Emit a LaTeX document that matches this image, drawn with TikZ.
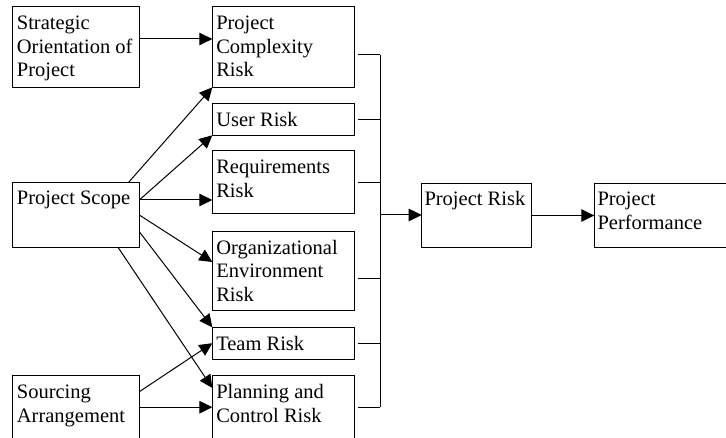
\documentclass[tikz,border=0pt]{standalone}
\usepackage{fontspec}
\setmainfont{Liberation Serif}
\usetikzlibrary{arrows.meta,calc}
\tikzset{
  box/.style={draw, line width=1pt, inner sep=0pt, outer sep=0pt},
  txt/.style={anchor=north west, inner sep=0pt, align=left, font=\fontsize{20.5}{23.6}\selectfont},
  arr/.style={line width=1pt, -{Triangle[length=13pt,width=12.5pt]}},
  ln/.style={line width=1pt}
}
\begin{document}
\begin{tikzpicture}[x=1pt,y=-1pt]
\clip (0,0) rectangle (726,438);
% left column
\node[box, minimum width=127pt, minimum height=80.6pt] (strat) at (75.8,47) {};
\node[box, minimum width=127pt, minimum height=64.6pt] (scope) at (75.8,215) {};
\node[box, minimum width=127pt, minimum height=63pt] (src) at (75.8,407.2) {};
% middle column
\node[box, minimum width=141.7pt, minimum height=80.6pt] (complex) at (283.2,47) {};
\node[box, minimum width=141.7pt, minimum height=32pt] (user) at (283.2,119.3) {};
\node[box, minimum width=141.7pt, minimum height=63pt] (req) at (283.2,182.5) {};
\node[box, minimum width=141.7pt, minimum height=79.3pt] (org) at (283.2,271.3) {};
\node[box, minimum width=141.7pt, minimum height=31.7pt] (team) at (283.2,343.2) {};
\node[box, minimum width=141.7pt, minimum height=63pt] (plan) at (283.2,407.2) {};
% right
\node[box, minimum width=110pt, minimum height=63.6pt] (risk) at (476.7,215.5) {};
\node[box, minimum width=146pt, minimum height=64pt] (perf) at (667.3,215.5) {};
% texts
\node[txt] (stratT) at ([shift={(4.4,6)}]strat.north west) {\strut Strategic\\Orientation of\\Project};
\node[txt] (scopeT) at ([shift={(4.4,5)}]scope.north west) {\strut Project Scope};
\node[txt] (srcT) at ([shift={(4.4,6)}]src.north west) {\strut Sourcing\\Arrangement};
\node[txt] (complexT) at ([shift={(3.7,6)}]complex.north west) {\strut Project\\Complexity\\Risk};
\node[txt] (userT) at ([shift={(3.7,6)}]user.north west) {\strut User Risk};
\node[txt] (reqT) at ([shift={(3.7,6)}]req.north west) {\strut Requirements\\Risk};
\node[txt] (orgT) at ([shift={(3.7,6)}]org.north west) {\strut Organizational\\Environment\\Risk};
\node[txt] (teamT) at ([shift={(3.7,6)}]team.north west) {\strut Team Risk};
\node[txt] (planT) at ([shift={(3.7,6)}]plan.north west) {\strut Planning and\\Control Risk};
\node[txt] (riskT) at ([shift={(2.6,5.5)}]risk.north west) {\strut Project Risk};
\node[txt] (perfT) at ([shift={(3,5.5)}]perf.north west) {\strut Project\\Performance};
% arrows from left column
\draw[arr] ([yshift=8pt]strat.east) -- ([yshift=8pt]complex.west);
\coordinate (s1) at ([yshift=15pt]scope.east);
\draw[arr] ([xshift=-11pt]scope.north east) -- (complex.south west);
\draw[arr] (s1) -- (user.south west);
\draw[arr] (s1) -- (s1 -| req.west);
\draw[arr] (scope.east) -- ([yshift=9.3pt]org.west);
\draw[arr] ([yshift=-16.7pt]scope.east) -- (team.north west);
\draw[arr] ([xshift=-21.3pt]scope.south east) -- ([yshift=-12.3pt]plan.north west);
\coordinate (s2) at ([yshift=15.5pt]src.east);
\draw[arr] (s2) -- (team.west);
\draw[arr] (src.east) -- (plan.west);
% bracket
\coordinate (bus) at (380,215);
\coordinate (t1) at ([shift={(4.3,8)}]complex.east);
\coordinate (t2) at ([xshift=4.3pt]user.east);
\coordinate (t3) at ([xshift=4.3pt]req.east);
\coordinate (t4) at ([shift={(4.3,7.7)}]org.east);
\coordinate (t5) at ([xshift=4.3pt]team.east);
\coordinate (t6) at ([xshift=4.3pt]plan.east);
\draw[ln] (t1) -- (t1 -| bus);
\draw[ln] (t2) -- (t2 -| bus);
\draw[ln] (t3) -- (t3 -| bus);
\draw[ln] (t4) -- (t4 -| bus);
\draw[ln] (t5) -- (t5 -| bus);
\draw[ln] (t6) -- (t6 -| bus);
\draw[ln] (t1 -| bus) -- (t6 -| bus);
\draw[arr] (bus) -- (bus -| risk.west);
\draw[arr] (risk.east) -- (perf.west);
\end{tikzpicture}
\end{document}
